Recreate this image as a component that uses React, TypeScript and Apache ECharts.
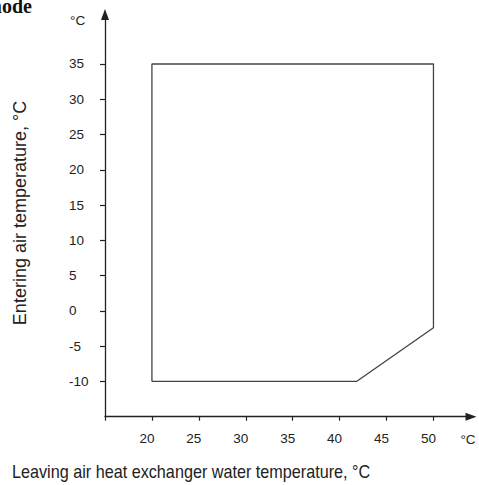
import React, { useEffect, useRef } from "react";
import * as echarts from "echarts";

const envelopeX = [20, 20, 50, 50, 41.8, 20];
const envelopeY = [-10, 35, 35, -2.4, -10, -10];
const xTickValues = [15, 20, 25, 30, 35, 40, 45, 50];
const xLabelValues = [20, 25, 30, 35, 40, 45, 50];
const yTickValues = [-10, -5, 0, 5, 10, 15, 20, 25, 30, 35];

const FONT = "Liberation Sans, Arial, sans-serif";

export default function App() {
  const ref = useRef<HTMLDivElement>(null);
  useEffect(() => {
    if (!ref.current) return;
    const chart = echarts.init(ref.current, undefined, { renderer: "svg" });
    const data = envelopeX.map((x, i) => [x, envelopeY[i]]);
    chart.setOption({
      animation: false,
      backgroundColor: "#ffffff",
      grid: { left: 105, top: 14.6, right: 8, bottom: 68.3, containLabel: false },
      xAxis: {
        type: "value",
        min: 15,
        max: 54,
        interval: 5,
        splitLine: { show: false },
        axisLine: {
          show: true,
          onZero: false,
          lineStyle: { color: "#222", width: 1.3 },
          symbol: ["none", "triangle"],
          symbolSize: [8, 11],
        },
        axisTick: {
          show: true,
          length: 4,
          customValues: xTickValues,
          lineStyle: { color: "#222", width: 1.2 },
        },
        axisLabel: {
          customValues: xLabelValues,
          color: "#222",
          fontFamily: FONT,
          fontSize: 13.5,
          margin: 15,
          padding: [0, 10, 0, 0],
        },
      },
      yAxis: {
        type: "value",
        min: -15,
        max: 42,
        interval: 5,
        splitLine: { show: false },
        axisLine: {
          show: true,
          onZero: false,
          lineStyle: { color: "#222", width: 1.3 },
          symbol: ["none", "triangle"],
          symbolSize: [8, 11],
        },
        axisTick: {
          show: true,
          length: 5,
          customValues: yTickValues,
          lineStyle: { color: "#222", width: 1.2 },
        },
        axisLabel: {
          customValues: yTickValues,
          color: "#222",
          fontFamily: FONT,
          fontSize: 13.5,
          margin: 36,
          align: "left",
        },
      },
      series: [
        {
          type: "line",
          data,
          symbol: "none",
          lineStyle: { color: "#444", width: 1.3 },
          silent: true,
        },
      ],
      graphic: [
        {
          type: "text",
          x: 32,
          y: 16,
          style: {
            text: "Heating mode",
            font: "bold 20px 'Liberation Serif', 'Times New Roman', serif",
            fill: "#111",
            textAlign: "right",
            textVerticalAlign: "bottom",
          },
        },
        {
          type: "text",
          x: 70,
          y: 20,
          style: {
            text: "°C",
            font: `13.5px ${FONT}`,
            fill: "#222",
            textAlign: "left",
            textVerticalAlign: "middle",
          },
        },
        {
          type: "text",
          x: 468,
          y: 439,
          style: {
            text: "°C",
            font: `13.5px ${FONT}`,
            fill: "#222",
            textAlign: "center",
            textVerticalAlign: "middle",
          },
        },
        {
          type: "text",
          x: 12,
          y: 472,
          scaleX: 0.9,
          style: {
            text: "Leaving air heat exchanger water temperature, °C",
            font: `18px ${FONT}`,
            fill: "#222",
            textAlign: "left",
            textVerticalAlign: "middle",
          },
        },
        {
          type: "text",
          x: 20,
          y: 213,
          rotation: Math.PI / 2,
          style: {
            text: "Entering air temperature, °C",
            font: `18px ${FONT}`,
            fill: "#222",
            textAlign: "center",
            textVerticalAlign: "middle",
          },
        },
      ],
    });
    return () => chart.dispose();
  }, []);
  return (
    <div
      ref={ref}
      style={{ position: "fixed", left: 0, top: 0, width: 479, height: 485 }}
    />
  );
}
